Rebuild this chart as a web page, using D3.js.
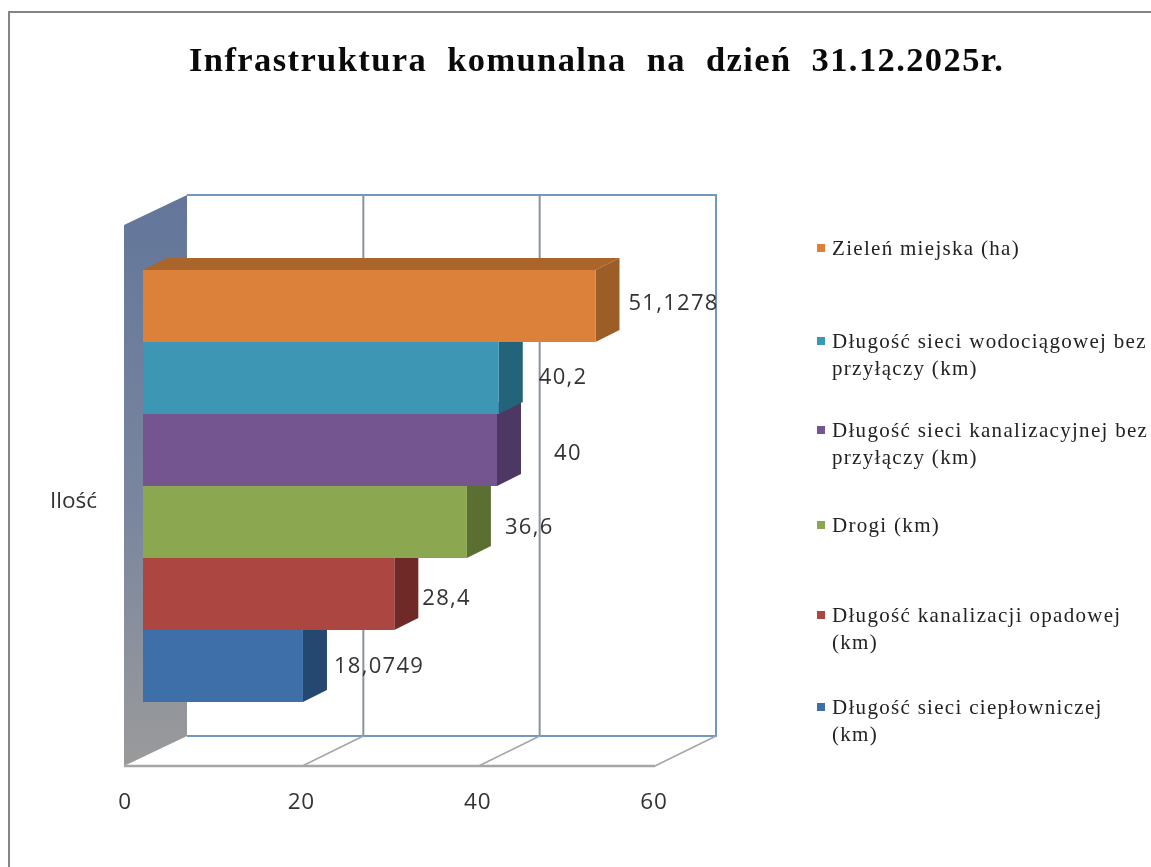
<!DOCTYPE html>
<html lang="pl"><head><meta charset="utf-8">
<style>html,body{margin:0;padding:0;background:#fff;overflow:hidden}svg{display:block;filter:blur(.5px)}</style>
<script src="https://cdn.jsdelivr.net/npm/d3@7/dist/d3.min.js"></script></head><body>
<svg id="c" width="1151" height="867"></svg>
<script>
const titleText = "Infrastruktura  komunalna  na  dzień  31.12.2025r.";
const axisLabel = "Ilość";
const seriesNames = ["Zieleń miejska (ha)","Długość sieci wodociągowej bez przyłączy (km)","Długość sieci kanalizacyjnej bez przyłączy (km)","Drogi (km)","Długość kanalizacji opadowej (km)","Długość sieci ciepłowniczej (km)"];
const legendLines = [["Zieleń miejska (ha)"],["Długość sieci wodociągowej bez","przyłączy (km)"],["Długość sieci kanalizacyjnej bez","przyłączy (km)"],["Drogi (km)"],["Długość kanalizacji opadowej","(km)"],["Długość sieci ciepłowniczej","(km)"]];
const seriesValues = [51.1278,40.2,40,36.6,28.4,18.0749];
const valueLabels = ["51,1278","40,2","40","36,6","28,4","18,0749"];
const tickValues = [0,20,40,60];
const frontColors = ["#dc8139","#3c96b4","#75558f","#8ba750","#ab4640","#3f6fa8"];
const sideColors = ["#9c5e26","#24647a","#4d3763","#5c6f33","#6f2a27","#254871"];
const topColors = ["#ab642a","#2a7089","#57406f","#667b39","#7c302c","#2b5180"];

// layout, separate from the data
const depthDx = 24, depthDy = 12;
const floorY = 766, backFloorY = 736, ceilingY = 225, backCeilingY = 195, wallFrontX = 124, wallBackX = 187;
const labelNudgeX = [33,40,57,38,28,31];
const labelY = [302,376,452,526,597,665];
const legendY = [248,341,430,525,615,707];
const lineGap = 27.5;

const svg = d3.select("#c");
const x = d3.scaleLinear().domain([0,60]).range([126,655]);      // front floor edge
const xBack = d3.scaleLinear().domain([0,60]).range([wallBackX,716]); // back wall
const xBar = d3.scaleLinear().domain([0,60]).range([143,674]);   // bar front faces
const y = d3.scaleBand().domain(seriesNames).range([270,702]);
const poly = pts => d3.line()(pts)+"Z";
const serif = "'Liberation Serif',serif", sans = "'Open Sans',sans-serif";

// page frame
svg.append("path").attr("d","M9,867V12H1151").attr("fill","none").attr("stroke","#858585").attr("stroke-width",2);

svg.append("text").attr("x",189).attr("y",71).attr("font-family",serif).attr("font-weight","bold")
  .attr("font-size",34.5).attr("fill","#0a0a0a").style("white-space","pre").attr("letter-spacing",1.4).text(titleText);

// wall gradient
const g = svg.append("defs").append("linearGradient").attr("id","wall").attr("x1",0).attr("x2",0).attr("y1",0).attr("y2",1);
g.append("stop").attr("offset",0).attr("stop-color","#63769a");
g.append("stop").attr("offset",.55).attr("stop-color","#7a869f");
g.append("stop").attr("offset",1).attr("stop-color","#9a9a9a");
svg.append("path").attr("d",poly([[wallFrontX,ceilingY],[wallBackX,backCeilingY],[wallBackX,backFloorY],[wallFrontX,floorY]])).attr("fill","url(#wall)");

// back wall frame and gridlines
const blue="#7298bd", grey="#8b93a0";
svg.append("path").attr("d",`M${wallBackX},${backCeilingY}H${xBack(60)}V${backFloorY}H${wallBackX}`).attr("fill","none").attr("stroke",blue).attr("stroke-width",2);
svg.append("g").selectAll("line").data(tickValues.slice(1,3)).join("line")
  .attr("x1",d=>xBack(d)).attr("x2",d=>xBack(d)).attr("y1",backCeilingY).attr("y2",backFloorY)
  .attr("stroke",grey).attr("stroke-width",2);
svg.append("g").selectAll("line").data(tickValues.slice(1)).join("line")
  .attr("x1",d=>x(d)).attr("x2",d=>xBack(d)).attr("y1",floorY).attr("y2",backFloorY)
  .attr("stroke","#a0a4ac").attr("stroke-width",1.5);
svg.append("line").attr("x1",wallFrontX).attr("x2",x(60)).attr("y1",floorY).attr("y2",floorY).attr("stroke","#a6a6a6").attr("stroke-width",2.5);

// bars, lowest first so each upper bar overlaps the one below
const idx = d3.range(seriesValues.length).reverse();
const bars = svg.append("g").selectAll("g").data(idx).join("g");
const left = xBar(0);
const right = i => xBar(seriesValues[i]);
bars.append("path").attr("fill",i=>topColors[i]).attr("d",i=>{const t=y(seriesNames[i]);
  return poly([[left,t],[left+depthDx,t-depthDy],[right(i)+depthDx,t-depthDy],[right(i),t]]);});
bars.append("path").attr("fill",i=>sideColors[i]).attr("d",i=>{const t=y(seriesNames[i]),b=t+y.bandwidth();
  return poly([[right(i),t],[right(i)+depthDx,t-depthDy],[right(i)+depthDx,b-depthDy],[right(i),b]]);});
bars.append("rect").attr("fill",i=>frontColors[i]).attr("x",left).attr("y",i=>y(seriesNames[i]))
  .attr("width",i=>right(i)-left).attr("height",y.bandwidth());

// value labels
svg.append("g").selectAll("text").data(valueLabels).join("text")
  .attr("x",(d,i)=>right(i)+labelNudgeX[i]).attr("y",(d,i)=>labelY[i]).attr("dy",".35em")
  .attr("font-family",sans).attr("font-size",22).attr("letter-spacing",1.3).attr("fill","#333").text(d=>d);

// axis ticks
svg.append("g").selectAll("text").data(tickValues).join("text")
  .attr("x",d=>x(d)-1).attr("y",801).attr("dy",".35em").attr("text-anchor","middle")
  .attr("font-family",sans).attr("font-size",22.5).attr("letter-spacing",.8).attr("fill","#333").text(d=>d);
svg.append("text").attr("x",50).attr("y",500).attr("dy",".35em").attr("font-family",sans).attr("font-size",22.5).attr("fill","#333").text(axisLabel);

// legend
const leg = svg.append("g").selectAll("g").data(legendLines).join("g");
leg.append("rect").attr("x",817).attr("y",(d,i)=>legendY[i]-4).attr("width",8).attr("height",8).attr("fill",(d,i)=>frontColors[i]);
leg.each(function(lines,i){
  d3.select(this).selectAll("text").data(lines).join("text")
    .attr("x",832).attr("y",(d,j)=>legendY[i]+j*lineGap).attr("dy",".33em")
    .attr("font-family",serif).attr("font-size",21).attr("letter-spacing",1.3).attr("fill","#222").text(d=>d);
});
</script></body></html>
